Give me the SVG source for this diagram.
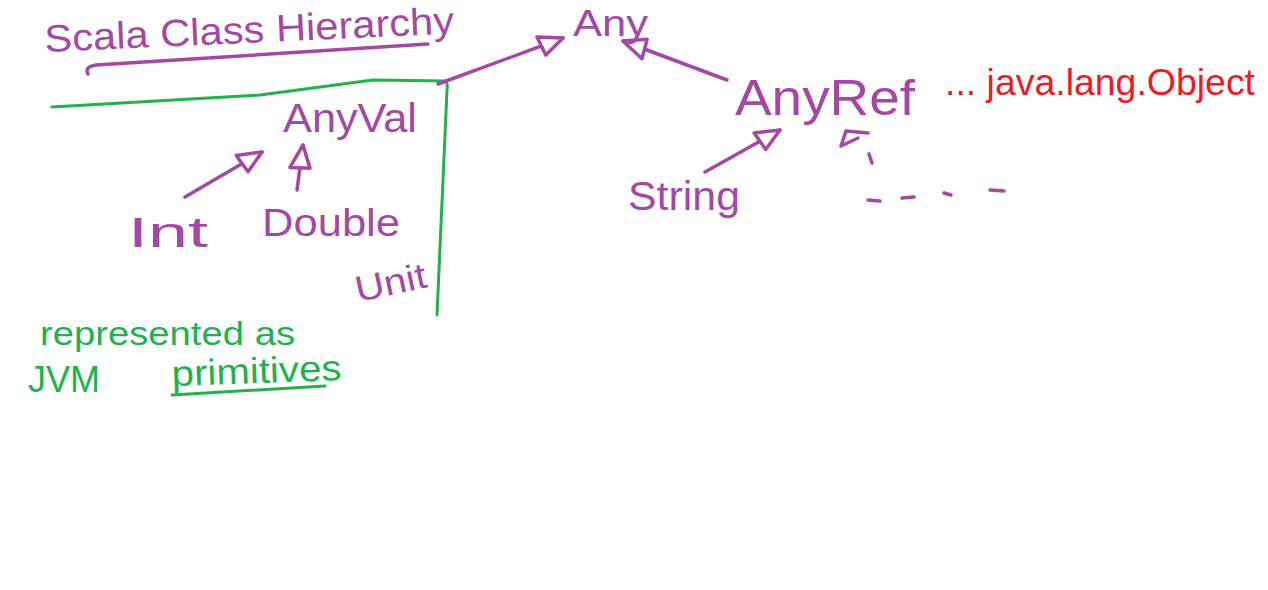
<svg xmlns="http://www.w3.org/2000/svg" width="1268" height="590" viewBox="0 0 1268 590">
<style>
.p{fill:#A349A4;font-family:"Liberation Sans",Arial,sans-serif}
.g{fill:#22B14C;font-family:"Liberation Sans",Arial,sans-serif}
.r{fill:#ED1C24;font-family:"Liberation Sans",Arial,sans-serif}
.lp{stroke:#A349A4;stroke-width:3.5;fill:none;stroke-linecap:round;stroke-linejoin:round}
.lg{stroke:#22B14C;stroke-width:3;fill:none;stroke-linecap:round;stroke-linejoin:round}
</style>
<defs>
<marker id="tri" markerUnits="userSpaceOnUse" markerWidth="34" markerHeight="30" refX="26" refY="12" orient="auto" viewBox="0 0 34 30">
<path d="M2,2 L26,12 L4,22 Z" fill="#fff" stroke="#A349A4" stroke-width="3.5" stroke-linejoin="round"/>
</marker>
</defs>
<rect width="1268" height="590" fill="#fff"/>
<g id="title">
<text class="p" x="45" y="52" font-size="38" textLength="410" lengthAdjust="spacingAndGlyphs" transform="rotate(-2.6 45 52)">Scala Class Hierarchy</text>
<path class="lp" d="M88,74 Q84,67 96,65 Q260,55 428,44"/>
</g>
<g id="primitives-box">
<path class="lg" d="M52,107 L260,95 L373,80 L445,81 Q448,82 447,90 L437,315"/>
</g>
<g id="connectors">
<path class="lp" d="M438,84 L563,38" marker-end="url(#tri)"/>
<path class="lp" d="M727,80 L623,41" marker-end="url(#tri)"/>
<path class="lp" d="M185,197 L262,152" marker-end="url(#tri)"/>
<path class="lp" d="M297,190 L303,145" marker-end="url(#tri)"/>
<path class="lp" d="M705,172 L780,130" marker-end="url(#tri)"/>
<path class="lp" d="M868,200 L880,201 M902,198 L914,197 M944,193 L951,195 M990,190 L1004,191 M869,154 L872,163"/>
<path class="lp" d="M841,146 L846,131 L868,133 M841,146 L858,138"/>
</g>
<g id="any"><text class="p" x="573" y="36" font-size="36" textLength="75" lengthAdjust="spacingAndGlyphs">Any</text></g>
<g id="anyval"><text class="p" x="283" y="132" font-size="40" textLength="134" lengthAdjust="spacingAndGlyphs">AnyVal</text></g>
<g id="anyref"><text class="p" x="735" y="115" font-size="50" textLength="180" lengthAdjust="spacingAndGlyphs">AnyRef</text></g>
<g id="int"><text class="p" x="128" y="247" font-size="42" textLength="80" lengthAdjust="spacingAndGlyphs">Int</text></g>
<g id="double"><text class="p" x="262" y="236" font-size="38" textLength="138" lengthAdjust="spacingAndGlyphs">Double</text></g>
<g id="unit"><text class="p" x="358" y="302" font-size="36" textLength="72" lengthAdjust="spacingAndGlyphs" transform="rotate(-12 358 302)">Unit</text></g>
<g id="string"><text class="p" x="628" y="210" font-size="40" textLength="112" lengthAdjust="spacingAndGlyphs">String</text></g>
<g id="object-note"><text class="r" x="945" y="95" font-size="36" textLength="310" lengthAdjust="spacingAndGlyphs">... java.lang.Object</text></g>
<g id="jvm-note">
<text class="g" x="40" y="345" font-size="34" textLength="255" lengthAdjust="spacingAndGlyphs">represented as</text>
<text class="g" x="28" y="392" font-size="36">JVM</text>
<text class="g" x="172" y="386" font-size="36" textLength="170" lengthAdjust="spacingAndGlyphs" transform="rotate(-2 172 386)">primitives</text>
<path class="lg" d="M172,395 L325,386"/>
</g>
</svg>
